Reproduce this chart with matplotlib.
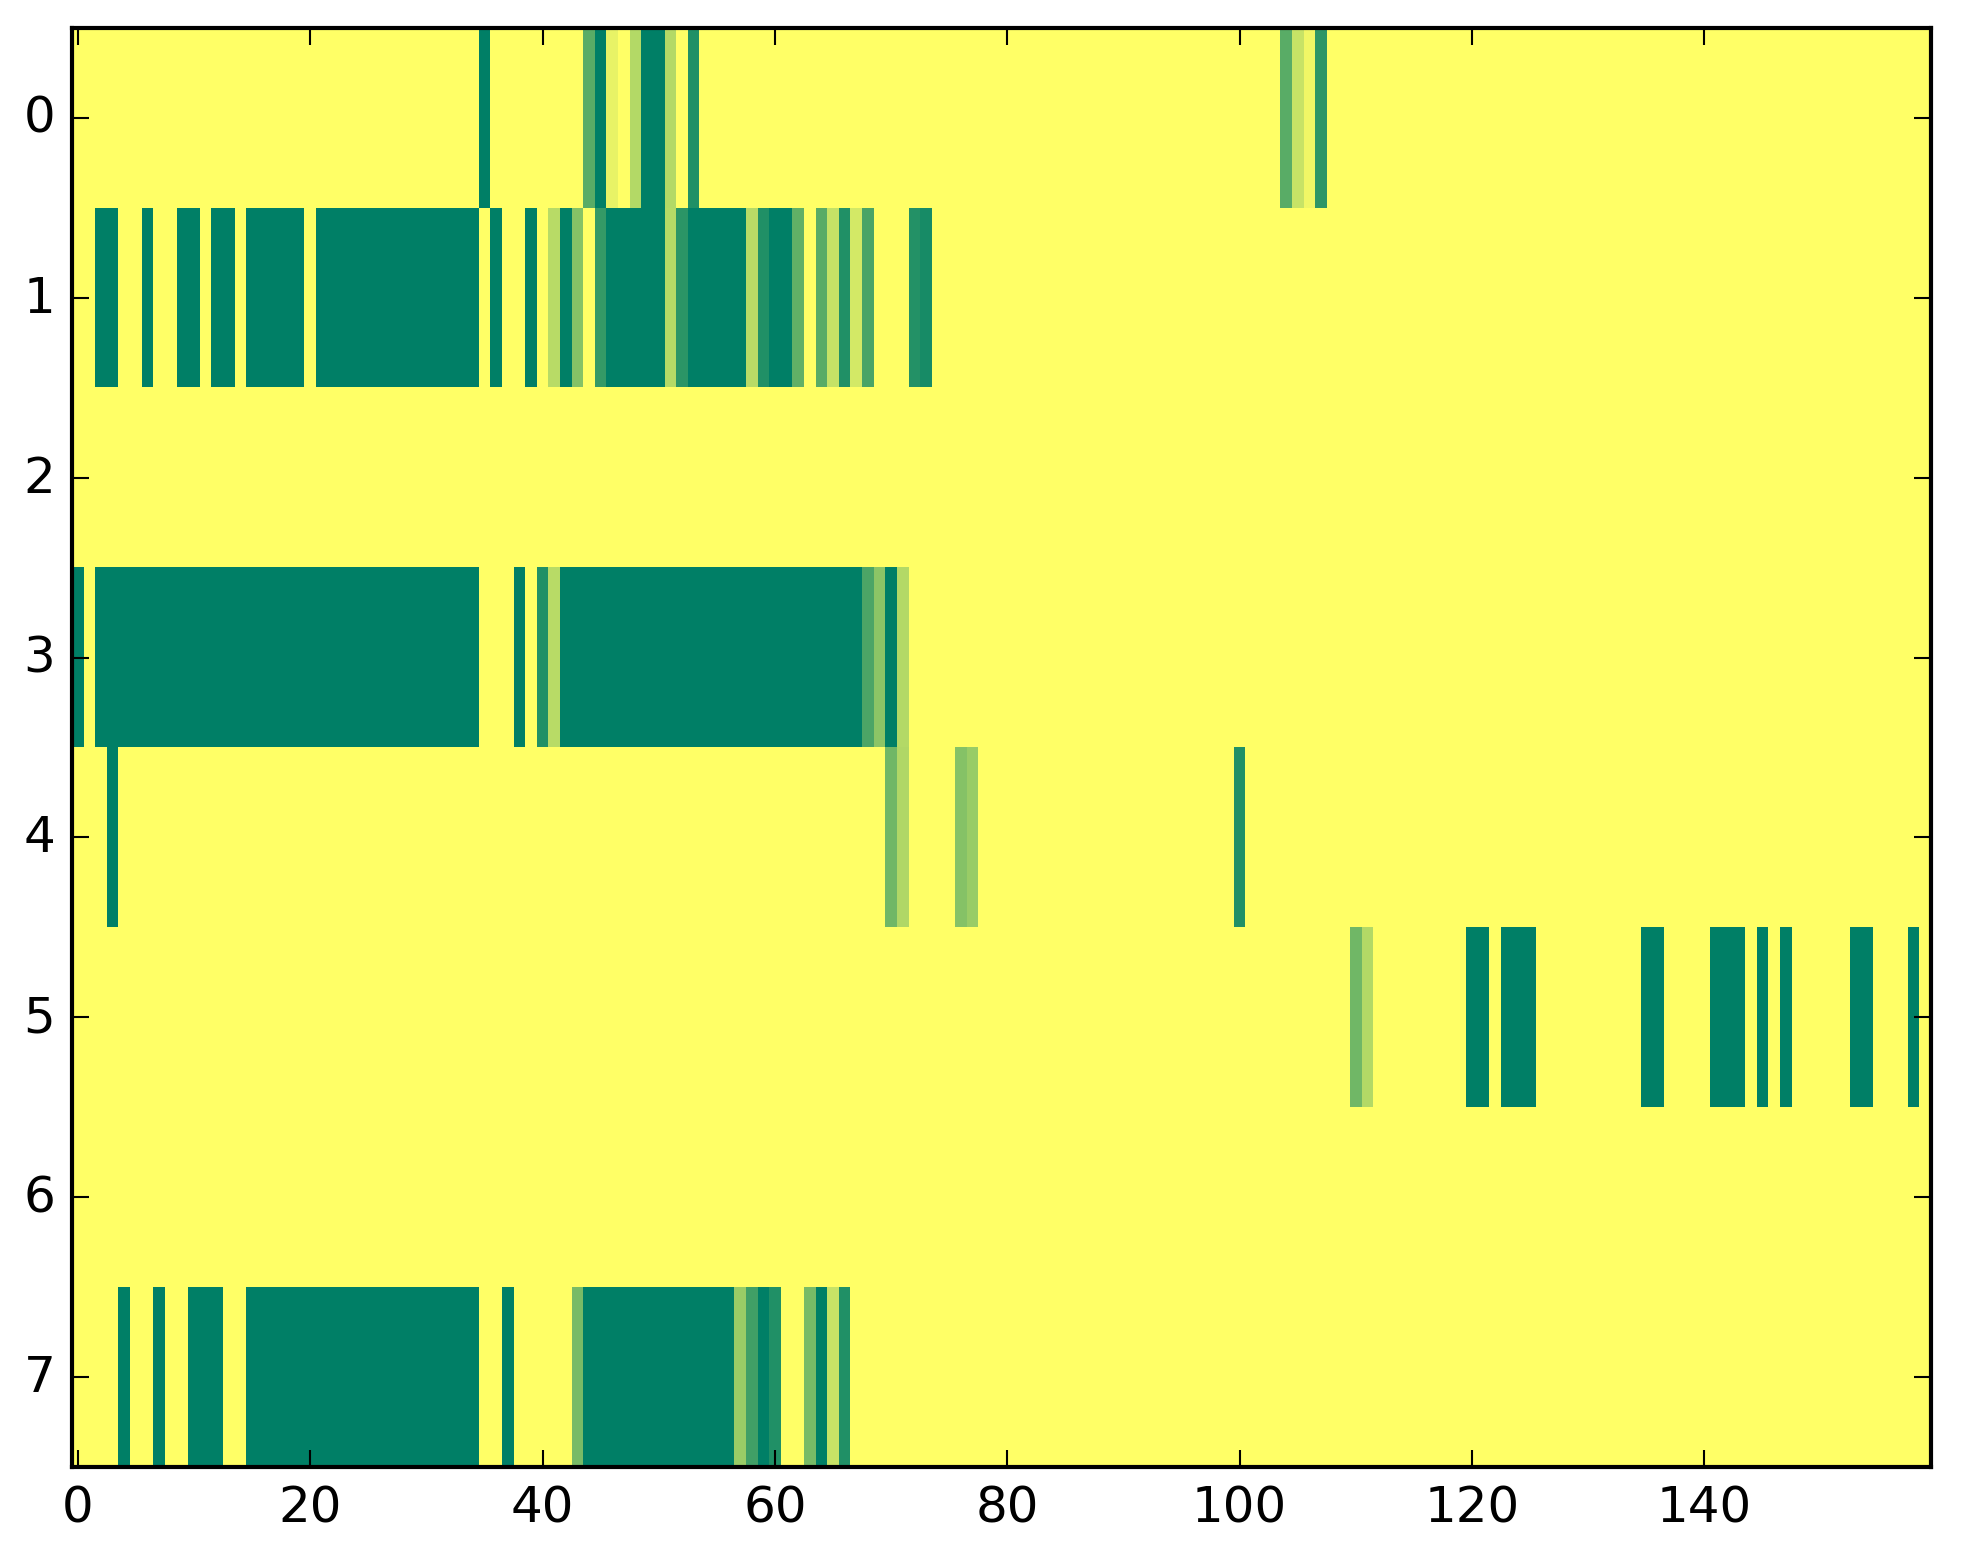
import numpy as np
import matplotlib
matplotlib.use("Agg")
import matplotlib.pyplot as plt

n_rows = 8
n_cols = 160
background = 1.0

def span(a, b, v=0.0):
    return {c: v for c in range(a, b + 1)}

row0 = {35: 0.0, 44: 0.35, 45: 0.0, 46: 0.91, 48: 0.70, 49: 0.0, 50: 0.0,
        51: 0.70, 53: 0.13, 104: 0.35, 105: 0.78, 106: 0.94, 107: 0.18}

row1 = {**span(2, 3), 6: 0.0, **span(9, 10), **span(12, 13), **span(15, 19),
        **span(21, 34), 36: 0.0, 39: 0.0, 41: 0.72, 42: 0.0, 43: 0.52,
        45: 0.21, **span(46, 50), 51: 0.71, 52: 0.17, **span(53, 57),
        58: 0.72, 59: 0.13, 60: 0.0, 61: 0.0, 62: 0.38, 64: 0.345,
        65: 0.77, 66: 0.13, 67: 0.83, 68: 0.29, 72: 0.14, 73: 0.09}

row2 = {}

row3 = {0: 0.0, **span(2, 34), 38: 0.0, 40: 0.13, 41: 0.72, **span(42, 67),
        68: 0.30, 69: 0.55, 70: 0.0, 71: 0.70}

row4 = {3: 0.0, 70: 0.44, 71: 0.69, 76: 0.52, 77: 0.60, 100: 0.13}

row5 = {110: 0.44, 111: 0.70, **span(120, 121), **span(123, 125),
        **span(135, 136), **span(141, 143), 145: 0.0, 147: 0.0,
        **span(153, 154), 158: 0.0}

row6 = {}

row7 = {4: 0.0, 7: 0.0, **span(10, 12), **span(15, 34), 37: 0.0,
        43: 0.47, **span(44, 56), 57: 0.60, 58: 0.25, 59: 0.0, 60: 0.13,
        63: 0.47, 64: 0.0, 65: 0.78, 66: 0.13}

rows = [row0, row1, row2, row3, row4, row5, row6, row7]

data = np.full((n_rows, n_cols), background)
for r, cells in enumerate(rows):
    for c, v in cells.items():
        data[r, c] = v

plt.style.use("classic")
fig = plt.figure(figsize=(1963 / 300, 1564 / 300), dpi=300, facecolor="white")
ax = fig.add_axes([72 / 1963, 1 - 1468 / 1564, (1931 - 72) / 1963, (1468 - 29) / 1564])
ax.imshow(data, cmap="summer", vmin=0, vmax=1, aspect="auto",
          interpolation="nearest")
ax.set_xticks(np.arange(0, 160, 20))
ax.set_yticks(np.arange(0, 8, 1))
ax.tick_params(labelsize=12)
fig.savefig("out.png", dpi=300, facecolor="white")
